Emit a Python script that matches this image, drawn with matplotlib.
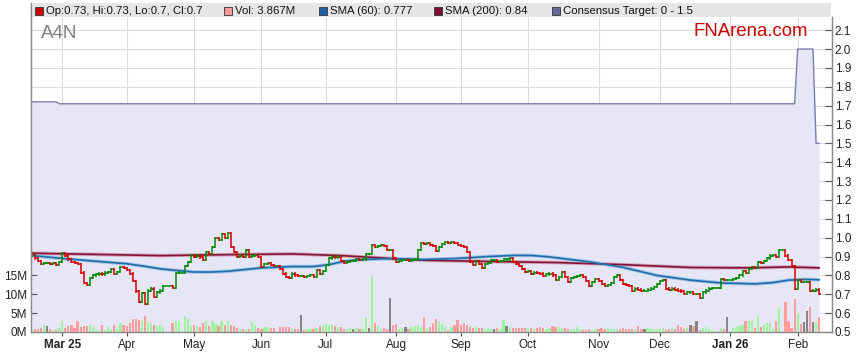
import numpy as np
import pandas as pd
import matplotlib
matplotlib.use("Agg")
import matplotlib.pyplot as plt
from matplotlib.patches import Rectangle

plt.rcParams['font.family'] = ['Liberation Sans', 'DejaVu Sans']

# ---------------- data ----------------
dates = pd.bdate_range('2025-02-14', '2026-02-11')   # weekday index = x position

closes = [
    0.905, 0.915, 0.89, 0.875, 0.86, 0.865, 0.865, 0.86, 0.865, 0.855,
    0.87, 0.92, 0.905, 0.885, 0.87, 0.865, 0.86, 0.815, 0.76, 0.75,
    0.785, 0.80, 0.805, 0.81, 0.805, 0.815, 0.82, 0.835, 0.81, 0.82,
    0.845, 0.84, 0.83, 0.81, 0.77, 0.715, 0.66, 0.705, 0.65, 0.72,
    0.73, 0.685, 0.71, 0.72, 0.745, 0.745, 0.745, 0.735, 0.813, 0.815,
    0.815, 0.85, 0.87, 0.906, 0.90, 0.905, 0.895, 0.88, 0.924, 0.915,
    0.95, 0.998, 0.99, 1.02, 1.0, 1.025, 0.95, 0.925, 0.90, 0.905,
    0.90, 0.933, 0.90, 0.905, 0.91, 0.898, 0.845, 0.86, 0.865, 0.855,
    0.85, 0.85, 0.835, 0.81, 0.79, 0.786, 0.81, 0.80, 0.795, 0.795,
    0.79, 0.795, 0.80, 0.79, 0.83, 0.81, 0.825, 0.857, 0.89, 0.90,
    0.895, 0.90, 0.875, 0.865, 0.87, 0.875, 0.875, 0.885, 0.88, 0.885,
    0.915, 0.915, 0.96, 0.95, 0.955, 0.96, 0.955, 0.935, 0.935, 0.89,
    0.87, 0.875, 0.88, 0.88, 0.875, 0.88, 0.885, 0.935, 0.97, 0.965,
    0.97, 0.96, 0.955, 0.93, 0.95, 0.965, 0.975, 0.97, 0.975, 0.97,
    0.96, 0.955, 0.95, 0.925, 0.87, 0.855, 0.875, 0.86, 0.84, 0.86,
    0.865, 0.88, 0.88, 0.87, 0.875, 0.885, 0.885, 0.89, 0.87, 0.86,
    0.85, 0.835, 0.82, 0.825, 0.81, 0.815, 0.812, 0.81, 0.797, 0.805,
    0.81, 0.80, 0.775, 0.79, 0.82, 0.79, 0.765, 0.785, 0.79, 0.795,
    0.80, 0.79, 0.77, 0.745, 0.765, 0.78, 0.77, 0.755, 0.745, 0.75,
    0.76, 0.79, 0.80, 0.775, 0.755, 0.75, 0.745, 0.72, 0.73, 0.725,
    0.72, 0.72, 0.725, 0.73, 0.74, 0.755, 0.77, 0.775, 0.73, 0.725,
    0.73, 0.725, 0.72, 0.715, 0.70, 0.71, 0.71, 0.70, 0.70, 0.68,
    0.71, 0.72, 0.73, 0.735, 0.735, 0.735, 0.78, 0.775, 0.775, 0.775,
    0.78, 0.785, 0.80, 0.825, 0.815, 0.835, 0.845, 0.84, 0.87, 0.865,
    0.875, 0.89, 0.905, 0.91, 0.90, 0.935, 0.935, 0.905, 0.88, 0.85,
    0.73, 0.775, 0.765, 0.765, 0.765, 0.72, 0.72, 0.725, 0.70,
]

volumes_m = [
    1.0, 0.9, 0.7, 0.7, 1.1, 1.9, 1.6, 0.7, 0.4, 0.4,
    1.0, 2.8, 1.0, 1.6, 1.9, 1.0, 2.8, 1.3, 1.6, 1.6,
    1.9, 1.3, 0.5, 0.6, 1.8, 0.5, 1.4, 0.7, 1.8, 0.7,
    2.3, 1.8, 1.6, 2.3, 3.4, 3.5, 3.3, 2.9, 4.2, 2.6,
    2.3, 1.8, 1.6, 2.0, 1.2, 0, 0, 2.3, 2.9, 2.9,
    0, 4.2, 3.5, 1.6, 1.8, 1.6, 1.4, 2.3, 2.9, 1.6,
    2.9, 2.0, 1.6, 2.9, 1.8, 2.9, 1.8, 1.6, 1.1, 0.9,
    0.9, 0.9, 0.9, 2.7, 1.8, 1.1, 0.9, 1.3, 1.3, 1.1,
    1.0, 0, 1.4, 1.4, 1.3, 1.4, 1.1, 0.9, 0.8, 4.4,
    0.4, 0.9, 0.7, 0.8, 1.0, 1.6, 1.8, 2.1, 1.8, 2.1,
    1.6, 1.4, 1.4, 0.7, 0.7, 1.0, 0.7, 1.1, 0.7, 0.9,
    4.1, 1.1, 14.8, 2.3, 1.6, 0.9, 1.1, 0.9, 8.9, 1.8,
    2.0, 0.9, 1.1, 1.4, 0.9, 1.4, 1.6, 1.8, 1.4, 4.0,
    1.1, 1.4, 2.3, 3.4, 2.9, 2.0, 1.4, 0.5, 1.4, 1.8,
    3.2, 1.8, 2.3, 1.8, 1.4, 1.1, 1.4, 1.0, 1.1, 0.9,
    1.1, 0.9, 0.8, 1.0, 0.8, 3.1, 1.6, 1.4, 1.0, 1.1,
    1.0, 1.0, 1.0, 1.0, 1.0, 0.8, 1.0, 1.2, 1.0, 0.8,
    1.0, 1.6, 1.4, 1.4, 1.1, 1.1, 0.9, 0.7, 0.9, 1.4,
    0.7, 0.6, 0.4, 0.7, 0.6, 0.7, 0.7, 1.0, 0.7, 1.4,
    0.7, 0.9, 0.9, 0.9, 1.0, 0.7, 0.9, 0.7, 0.7, 1.6,
    0.9, 0.7, 1.1, 0.9, 0.7, 0.7, 0.7, 1.0, 0.6, 0.9,
    1.4, 0.7, 1.9, 1.4, 0.7, 1.1, 1.9, 1.6, 2.8, 0.6,
    1.1, 1.3, 0.9, 0.5, 0, 0, 1.1, 0.9, 4.1, 0,
    1.1, 1.3, 1.5, 1.9, 3.0, 3.0, 3.0, 1.1, 4.2, 1.3,
    1.8, 2.5, 2.4, 0.8, 3.0, 6.4, 0, 7.9, 3.0, 1.0,
    8.7, 4.8, 2.2, 2.7, 5.6, 6.6, 2.7, 2.7, 3.867,
]

# moving averages (weekday index, value)
sma60_idx = [0, 11, 22, 32, 38, 43, 49, 54, 60, 65, 70, 76, 86, 93, 98, 103, 108,
             118, 129, 140, 150, 158, 164, 170, 176, 183, 194, 205, 216, 226, 237,
             243, 248, 253, 258]
sma60_val = [0.907, 0.89, 0.875, 0.862, 0.848, 0.835, 0.825, 0.818, 0.818, 0.822,
             0.83, 0.84, 0.847, 0.847, 0.857, 0.875, 0.884, 0.889, 0.884, 0.89,
             0.90, 0.906, 0.906, 0.898, 0.886, 0.872, 0.843, 0.80, 0.775, 0.76,
             0.755, 0.762, 0.775, 0.779, 0.777]
sma200_idx = [0, 20, 43, 65, 86, 102, 118, 130, 150, 173, 194, 216, 235, 248, 258]
sma200_val = [0.918, 0.912, 0.905, 0.91, 0.914, 0.905, 0.89, 0.88, 0.874, 0.868,
              0.857, 0.842, 0.84, 0.845, 0.84]

# consensus target
target_idx = [0, 9, 10, 250, 251, 256, 257, 258]
target_val = [1.72, 1.72, 1.71, 1.71, 2.0, 2.0, 1.5, 1.5]

month_labels = ["Mar 25", "Apr", "May", "Jun", "Jul", "Aug", "Sep", "Oct",
                "Nov", "Dec", "Jan 26", "Feb"]
bold_labels = ["Mar 25", "Jan 26"]

legend_items = [
    ("Op:0.73, Hi:0.73, Lo:0.7, Cl:0.7", "#cc0000"),
    ("Vol: 3.867M", "#ff9999"),
    ("SMA (60): 0.777", "#1f5f9f"),
    ("SMA (200): 0.84", "#7a1030"),
    ("Consensus Target: 0 - 1.5", "#666699"),
]

# ---------------- figure ----------------
W, H = 859, 363
fig = plt.figure(figsize=(W / 100, H / 100), dpi=100)
L, R, T, B = 31, 832, 17, 332
ax = fig.add_axes([L / W, 1 - B / H, (R - L) / W, (B - T) / H])
axv = ax.twinx()

idx = np.arange(len(dates))
c = np.array(closes)
v = np.array(volumes_m)
o = np.r_[c[0], c[:-1]]
wick = 0.006 * (v > 0)
hi = np.maximum(o, c) + wick
lo = np.minimum(o, c) - wick
bar_col = np.where(c < o, '#d40000', '#008a00')

# consensus fill
ax.fill_between(target_idx, target_val, 0.4, color='#e6e6f7', zorder=1, lw=0)
ax.plot(target_idx, target_val, color='#7c7cab', lw=1.0, zorder=1.5)

# SMA lines
ax.plot(sma200_idx, sma200_val, color='#d7a5b8', lw=2.6, zorder=2, solid_capstyle='butt')
ax.plot(sma200_idx, sma200_val, color='#821535', lw=1.2, zorder=2.1)
ax.plot(sma60_idx, sma60_val, color='#a3c6e4', lw=2.6, zorder=2, solid_capstyle='butt')
ax.plot(sma60_idx, sma60_val, color='#1f6cab', lw=1.2, zorder=2.1)

# OHLC bars
ax.vlines(idx, lo, hi, colors=bar_col, lw=1.1, zorder=3)
ax.hlines(o, idx - 0.55, idx, colors=bar_col, lw=1.1, zorder=3)
ax.hlines(c, idx, idx + 0.55, colors=bar_col, lw=1.1, zorder=3)

# volume
vcol = np.where(c > o, '#9ef59e', np.where(c < o, '#ff9c9c', '#858585'))
axv.bar(idx, v, width=0.72, color=vcol, lw=0, zorder=2)

# axes ranges
ax.set_xlim(0.8, 262.2)
ax.set_ylim(0.5, 2.17)
axv.set_ylim(0, 83.5)

# price axis on right
ax.yaxis.tick_right()
ax.set_yticks(np.round(np.arange(0.5, 2.11, 0.1), 1))
ax.set_yticklabels([f"{t:.1f}" for t in np.arange(0.5, 2.11, 0.1)])
ax.tick_params(axis='y', direction='in', length=5, width=0.8, color='#555555',
               labelsize=8.5, labelcolor='#222222', pad=2, right=True, left=False)

# volume axis on left
axv.yaxis.tick_left()
axv.set_yticks([0, 5, 10, 15])
axv.set_yticklabels(["0M", "5M", "10M", "15M"])
axv.tick_params(axis='y', direction='in', length=4, width=0.8, color='#555555',
                labelsize=8.5, labelcolor='#222222', pad=3, left=True, right=False)

# month ticks at the first weekday of each month
ser = pd.Series(dates)
first = ser.groupby([ser.dt.year, ser.dt.month]).head(1).index.values
month_pos = [p for p in first if dates[p] >= pd.Timestamp('2025-03-01')]
ax.set_xticks(month_pos)
ax.set_xticklabels(month_labels)
for lab in ax.get_xticklabels():
    if lab.get_text() in bold_labels:
        lab.set_fontweight('bold')
ax.tick_params(axis='x', direction='out', length=3, width=0.8, color='#555555',
               labelsize=8.5, labelcolor='#222222', pad=2)
axv.tick_params(axis='x', bottom=False, labelbottom=False)

ax.grid(True, color='#dcdcdc', lw=0.8)
ax.set_axisbelow(True)

for a in (ax, axv):
    for s in a.spines.values():
        s.set_color('#8a8a8a')
        s.set_linewidth(0.9)
    a.spines['top'].set_visible(False)

# header band
fig.patches.append(Rectangle((30 / W, 1 - 17 / H), (831 - 30) / W, 14 / H,
                             transform=fig.transFigure, facecolor='#e6e6e6',
                             edgecolor='none', zorder=0))
fig.lines.append(plt.Line2D([30.5 / W, 30.5 / W], [1 - 3 / H, 1 - 17 / H],
                            transform=fig.transFigure, color='#8a8a8a', lw=0.9))
starts = [35, 224, 319, 434, 552]
for (txt, col), x0 in zip(legend_items, starts):
    fig.patches.append(Rectangle((x0 / W, 1 - 14.5 / H), 8 / W, 8 / H,
                                 transform=fig.transFigure, facecolor=col,
                                 edgecolor='#333333', lw=0.6))
    fig.text((x0 + 11) / W, 1 - 10.5 / H, txt, fontsize=8.2, color='#111111',
             va='center', ha='left')

fig.text(41 / W, 1 - 33 / H, "A4N", fontsize=13.5, color='#808080',
         va='center', ha='left')
fig.text(808 / W, 1 - 32 / H, "FNArena.com", fontsize=13.4, color='#cc0000',
         va='center', ha='right')

fig.savefig("out.png", dpi=100)
